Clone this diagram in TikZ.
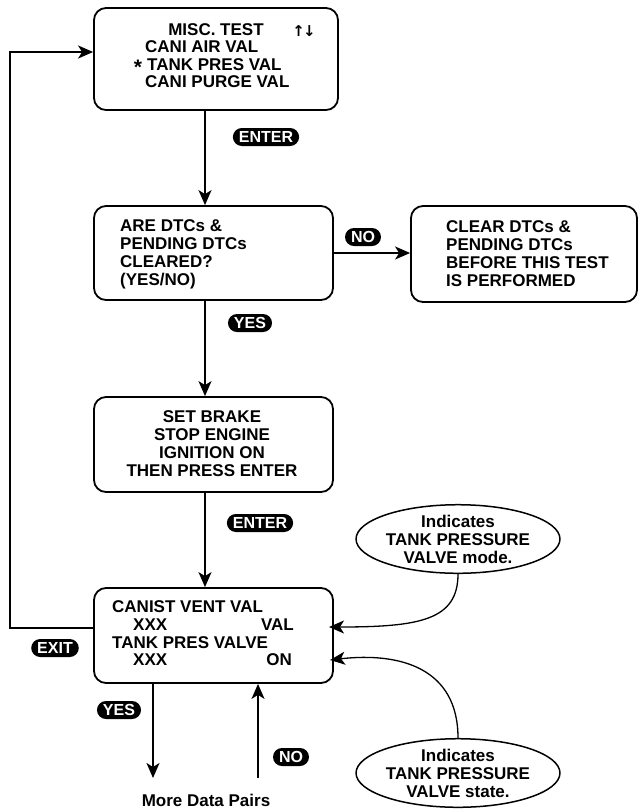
\documentclass[tikz,border=0pt]{standalone}
\usepackage{fontspec}
\setmainfont{Liberation Sans}
\newfontfamily\arrowfont{DejaVu Sans}
\usetikzlibrary{arrows.meta,shapes.geometric}
\tikzset{
  scrbox/.style={rectangle, draw, line width=1.8pt, rounded corners=12pt},
  keycap/.style={rectangle, fill=black, text=white, rounded corners=9pt, minimum height=18pt,
    inner xsep=6pt, inner ysep=0pt, font=\fontsize{16}{16}\selectfont\bfseries},
  note/.style={ellipse, draw, line width=1.5pt, minimum width=182pt, minimum height=67pt,
    inner sep=0pt, align=center},
  flow/.style={line width=1.8pt, -{Stealth[length=15pt,width=13pt,inset=4pt]}},
  callout/.style={line width=1.3pt, -{Stealth[length=15pt,width=13pt,inset=4pt]}},
}
\begin{document}
\begin{tikzpicture}[x=1pt, y=-1pt, font=\fontsize{17}{18}\selectfont\bfseries]
  \useasboundingbox (0,0) rectangle (640,812);
  % screens
  \node[scrbox, minimum width=244pt, minimum height=102pt] (misc) at (216,59) {};
  \node[scrbox, minimum width=239pt, minimum height=94pt] (cleared) at (213.5,253) {};
  \node[scrbox, minimum width=226pt, minimum height=96pt] (cleardtc) at (524,254) {};
  \node[scrbox, minimum width=239pt, minimum height=95pt] (brake) at (213.5,444.5) {};
  \node[scrbox, minimum width=239pt, minimum height=95pt] (vent) at (213.5,635.5) {};
  % screen texts
  \node[inner sep=0] (misctitle) at (216,30) {MISC. TEST};
  \node[inner sep=0, font=\fontsize{15}{15}\selectfont\arrowfont\bfseries] (scroll) at (304,31) {↑\kern-2pt↓};
  \node[inner sep=0, anchor=west, align=left, font=\fontsize{17}{17.5}\selectfont\bfseries] (misclist)
    at (145,64.3) {CANI AIR VAL\\\kern2pt TANK PRES VAL\\CANI PURGE VAL};
  \node[inner sep=0, anchor=base, font=\fontsize{21}{21}\selectfont\bfseries] (star) at (138,74) {*};
  \node[inner sep=0, anchor=west, align=left] (clearedtext) at (120,254)
    {ARE DTCs \&\\PENDING DTCs\\CLEARED?\\(YES/NO)};
  \node[inner sep=0, anchor=west, align=left] (cleardtctext) at (446,254)
    {CLEAR DTCs \&\\PENDING DTCs\\BEFORE THIS TEST\\IS PERFORMED};
  \node[inner sep=0, align=center] (braketext) at (212,444)
    {SET BRAKE\\STOP ENGINE\\IGNITION ON\\THEN PRESS ENTER};
  \node[inner sep=0, anchor=west] (ventname) at (112,607) {CANIST VENT VAL};
  \node[inner sep=0, anchor=west] (ventval) at (133,625) {XXX};
  \node[inner sep=0, anchor=east] (ventunit) at (294,625) {VAL};
  \node[inner sep=0, anchor=west] (presname) at (112,643) {TANK PRES VALVE};
  \node[inner sep=0, anchor=west] (presvalue) at (133,660) {XXX};
  \node[inner sep=0, anchor=east] (presunit) at (292,660) {ON};
  % notes
  \node[note] (modenote) at (458,539) {Indicates\\TANK PRESSURE\\VALVE mode.};
  \node[note] (statenote) at (458,773) {Indicates\\TANK PRESSURE\\VALVE state.};
  \node (more) at (206,800) {More Data Pairs};
  % keys
  \node[keycap] (enterA) at (266,137) {ENTER};
  \node[keycap] (noA) at (363,237) {NO};
  \node[keycap] (yesA) at (250,323) {YES};
  \node[keycap] (enterB) at (260,523) {ENTER};
  \node[keycap] (exitkey) at (55,648) {EXIT};
  \node[keycap] (yesB) at (119,710) {YES};
  \node[keycap] (noB) at (291,757) {NO};
  % connectors
  \coordinate (spine) at (205,0);
  \coordinate (loopbot) at (10,628);
  \coordinate (looptop) at (10,52);
  \coordinate (yesend) at (153,778);
  \coordinate (noend) at (258,778);
  \coordinate (valmark) at (329,627);
  \coordinate (onmark) at (330,660);
  \draw[flow] (misc.south -| spine) -- (cleared.north -| spine);
  \draw[flow] (cleared.south -| spine) -- (brake.north -| spine);
  \draw[flow] (brake.south -| spine) -- (vent.north -| spine);
  \draw[flow] (cleared.east) -- (cleared.east -| cleardtc.west);
  \draw[flow] (loopbot -| vent.west) -- (loopbot) -- (looptop) -- (looptop -| misc.west);
  \draw[flow] (vent.south -| yesend) -- (yesend);
  \draw[flow] (noend) -- (vent.south -| noend);
  \draw[callout] (modenote.south) .. controls (458,620) and (420,627) .. (valmark);
  \draw[callout] (statenote.north) .. controls (458,668) and (400,652) .. (onmark);
\end{tikzpicture}
\end{document}
